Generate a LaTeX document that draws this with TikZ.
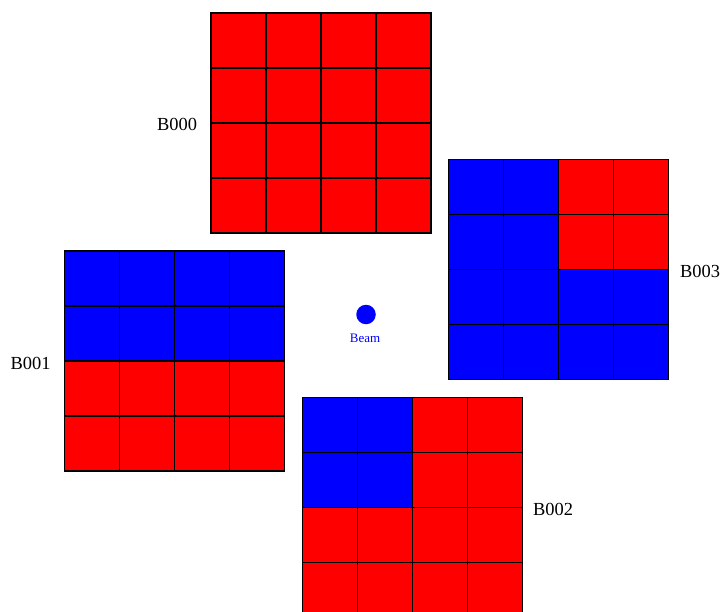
\documentclass[tikz,border=0pt]{standalone}
\usepackage{fontspec}
\setmainfont{Liberation Serif}
\tikzset{
  cellbox/.style={draw=none, minimum size=55bp, inner sep=0pt, outer sep=0pt, anchor=north west},
  redcell/.style={cellbox, fill=red},
  bluecell/.style={cellbox, fill=blue},
  cellline/.style={draw=black, line width=1.6bp},
  boxlabel/.style={font=\fontsize{18.5}{20}\selectfont, inner sep=0pt},
  beamlabel/.style={font=\fontsize{13}{14}\selectfont, text=blue, inner sep=0pt},
}
\begin{document}
\begin{tikzpicture}[x=1bp,y=-1bp]
\useasboundingbox (0,0) rectangle (720,612);
% B000: all red
\foreach \r in {0,...,3}{\foreach \c in {0,...,3}{
  \node[redcell] (a\r\c) at (211+55*\c, 13+55*\r) {};
}}
% B001: top two rows blue, bottom red
\foreach \r in {0,...,3}{\foreach \c in {0,...,3}{
  \pgfmathsetmacro{\col}{\r<2 ? 1 : 0}
  \ifdim\col pt>0.5pt
    \node[bluecell] (b\r\c) at (64.5+55*\c, 251+55*\r) {};
  \else
    \node[redcell] (b\r\c) at (64.5+55*\c, 251+55*\r) {};
  \fi
}}
% B002: top-left 2x2 blue, rest red
\foreach \r in {0,...,3}{\foreach \c in {0,...,3}{
  \pgfmathsetmacro{\col}{(\r<2 && \c<2) ? 1 : 0}
  \ifdim\col pt>0.5pt
    \node[bluecell] (c\r\c) at (302.5+55*\c, 397.5+55*\r) {};
  \else
    \node[redcell] (c\r\c) at (302.5+55*\c, 397.5+55*\r) {};
  \fi
}}
% B003: top-right 2x2 red, rest blue
\foreach \r in {0,...,3}{\foreach \c in {0,...,3}{
  \pgfmathsetmacro{\col}{(\r<2 && \c>1) ? 1 : 0}
  \ifdim\col pt>0.5pt
    \node[redcell] (d\r\c) at (448.5+55*\c, 159.5+55*\r) {};
  \else
    \node[bluecell] (d\r\c) at (448.5+55*\c, 159.5+55*\r) {};
  \fi
}}
% cell borders on top of all fills
\foreach \g in {a,b,c,d}{\foreach \r in {0,...,3}{\foreach \c in {0,...,3}{
  \draw[cellline] (\g\r\c.north west) rectangle (\g\r\c.south east);
}}}
% labels
\node[boxlabel] (l0) at (177,124.5) {B000};
\node[boxlabel] (l1) at (30.5,363) {B001};
\node[boxlabel] (l2) at (553,509.5) {B002};
\node[boxlabel] (l3) at (700,271) {B003};
% beam
\node[circle, fill=blue, minimum size=19.5bp, inner sep=0pt] (beam) at (366,314.5) {};
\node[beamlabel] (beamtext) at (365,338.5) {Beam};
\end{tikzpicture}
\end{document}
